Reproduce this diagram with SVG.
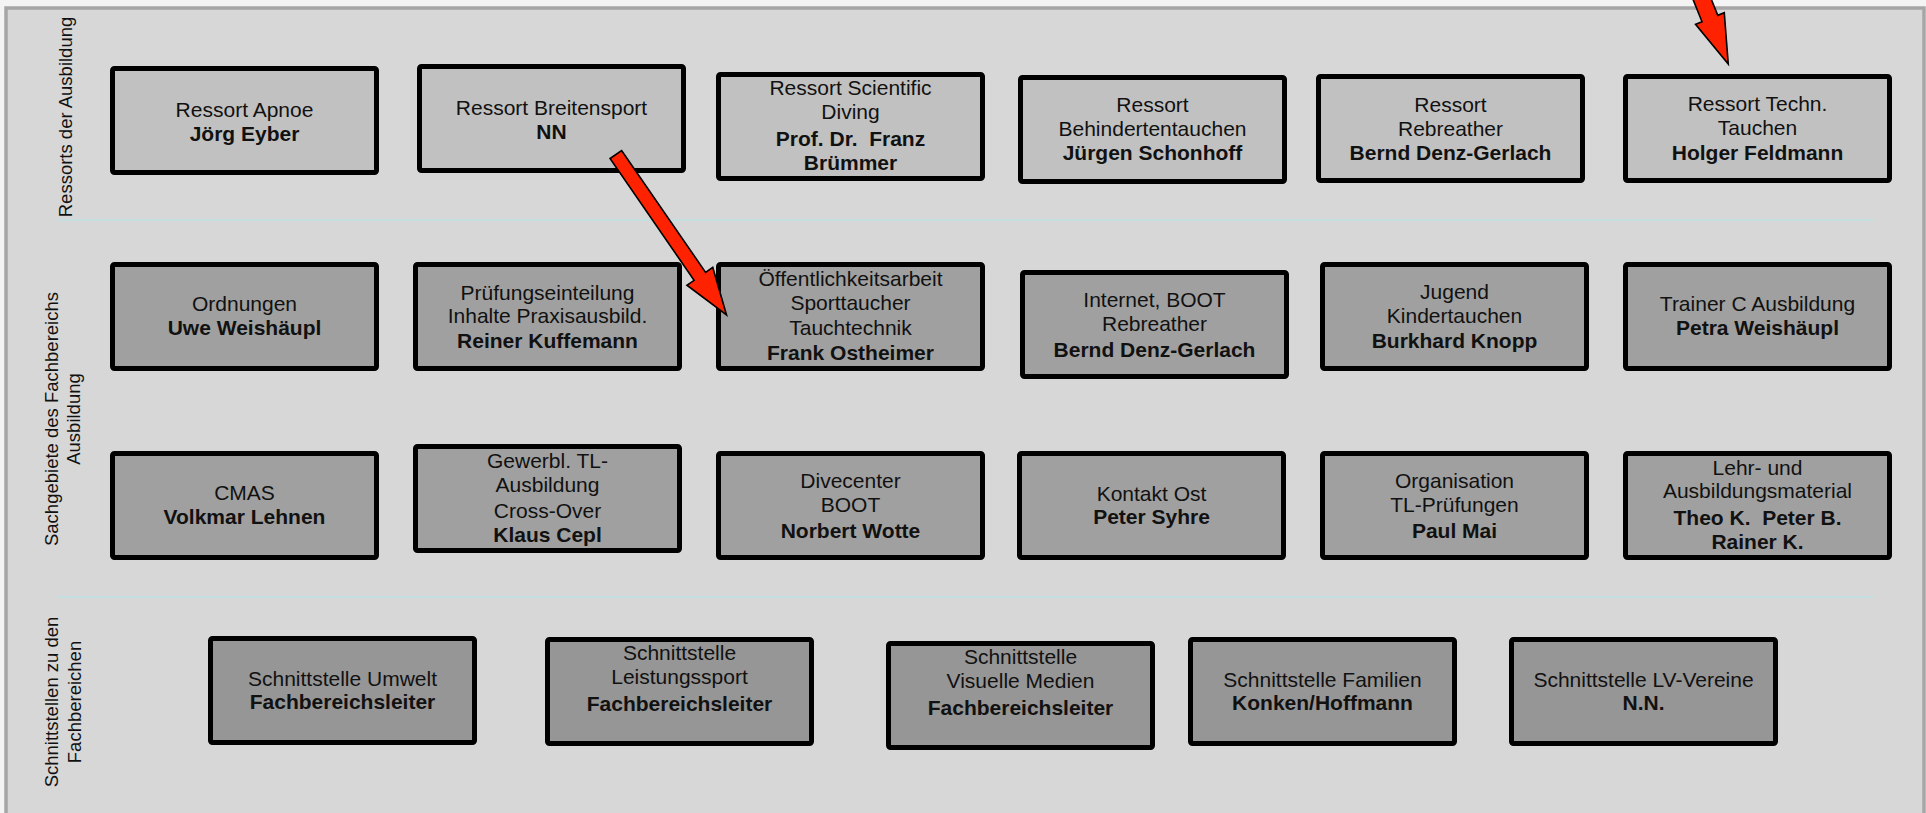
<svg xmlns="http://www.w3.org/2000/svg" width="1926" height="813" viewBox="0 0 1926 813">
<style>
.bg{fill:#d7d7d7;stroke:#a6a6a6;stroke-width:3.5}
.sep{stroke:#c4dfe0;stroke-width:2}
.b{stroke:#000;stroke-width:5}
.r1{fill:#c1c1c1}
.r2{fill:#a0a0a0}
.r4{fill:#969696}
text{font-family:"Liberation Sans",Arial,sans-serif;fill:#111}
.t{font-size:21px;text-anchor:middle}
.bd{font-weight:bold}
.lab{font-size:18.5px;text-anchor:middle}
.arr{fill:#ff2200;stroke:#000;stroke-width:1.6;stroke-linejoin:miter}
</style>
<rect width="1926" height="813" fill="#f4f4f4"/>
<rect class="bg" x="6" y="8" width="1918" height="812"/>
<line class="sep" x1="58" y1="220" x2="1874" y2="220"/>
<line class="sep" x1="58" y1="597" x2="1874" y2="597"/>

<g id="label-ressorts"><text class="lab" transform="translate(71.5,117) rotate(-90)">Ressorts der Ausbildung</text></g>
<g id="label-sachgebiete"><text class="lab" transform="translate(57.5,419) rotate(-90)">Sachgebiete des Fachbereichs</text><text class="lab" transform="translate(79.5,419) rotate(-90)">Ausbildung</text></g>
<g id="label-schnittstellen"><text class="lab" transform="translate(58,702) rotate(-90)">Schnittstellen zu den</text><text class="lab" transform="translate(80.5,702) rotate(-90)">Fachbereichen</text></g>

<g id="n-apnoe"><rect class="b r1" x="112.5" y="68.5" width="264" height="104" rx="2"/><text class="t" x="244.5" y="117">Ressort Apnoe</text><text class="t bd" x="244.5" y="141">Jörg Eyber</text></g>
<g id="n-breitensport"><rect class="b r1" x="419.5" y="66.5" width="264" height="104" rx="2"/><text class="t" x="551.5" y="115">Ressort Breitensport</text><text class="t bd" x="551.5" y="139">NN</text></g>
<g id="n-scientific"><rect class="b r1" x="718.5" y="74.5" width="264" height="104" rx="2"/><text class="t" x="850.5" y="95">Ressort Scientific</text><text class="t" x="850.5" y="119">Diving</text><text class="t bd" x="850.5" y="146" xml:space="preserve">Prof. Dr.  Franz</text><text class="t bd" x="850.5" y="170">Brümmer</text></g>
<g id="n-behinderten"><rect class="b r1" x="1020.5" y="77.5" width="264" height="104" rx="2"/><text class="t" x="1152.5" y="112">Ressort</text><text class="t" x="1152.5" y="136">Behindertentauchen</text><text class="t bd" x="1152.5" y="160">Jürgen Schonhoff</text></g>
<g id="n-rebreather"><rect class="b r1" x="1318.5" y="76.5" width="264" height="104" rx="2"/><text class="t" x="1450.5" y="112">Ressort</text><text class="t" x="1450.5" y="136">Rebreather</text><text class="t bd" x="1450.5" y="160">Bernd Denz-Gerlach</text></g>
<g id="n-techn"><rect class="b r1" x="1625.5" y="76.5" width="264" height="104" rx="2"/><text class="t" x="1757.5" y="111">Ressort Techn.</text><text class="t" x="1757.5" y="135">Tauchen</text><text class="t bd" x="1757.5" y="160">Holger Feldmann</text></g>

<g id="n-ordnungen"><rect class="b r2" x="112.5" y="264.5" width="264" height="104" rx="2"/><text class="t" x="244.5" y="311">Ordnungen</text><text class="t bd" x="244.5" y="335">Uwe Weishäupl</text></g>
<g id="n-pruefung"><rect class="b r2" x="415.5" y="264.5" width="264" height="104" rx="2"/><text class="t" x="547.5" y="300">Prüfungseinteilung</text><text class="t" x="547.5" y="323">Inhalte Praxisausbild.</text><text class="t bd" x="547.5" y="348">Reiner Kuffemann</text></g>
<g id="n-oeffentlichkeit"><rect class="b r2" x="718.5" y="264.5" width="264" height="104" rx="2"/><text class="t" x="850.5" y="286">Öffentlichkeitsarbeit</text><text class="t" x="850.5" y="310">Sporttaucher</text><text class="t" x="850.5" y="335">Tauchtechnik</text><text class="t bd" x="850.5" y="360">Frank Ostheimer</text></g>
<g id="n-internet"><rect class="b r2" x="1022.5" y="272.5" width="264" height="104" rx="2"/><text class="t" x="1154.5" y="307">Internet, BOOT</text><text class="t" x="1154.5" y="331">Rebreather</text><text class="t bd" x="1154.5" y="357">Bernd Denz-Gerlach</text></g>
<g id="n-jugend"><rect class="b r2" x="1322.5" y="264.5" width="264" height="104" rx="2"/><text class="t" x="1454.5" y="299">Jugend</text><text class="t" x="1454.5" y="323">Kindertauchen</text><text class="t bd" x="1454.5" y="348">Burkhard Knopp</text></g>
<g id="n-trainer"><rect class="b r2" x="1625.5" y="264.5" width="264" height="104" rx="2"/><text class="t" x="1757.5" y="311">Trainer C Ausbildung</text><text class="t bd" x="1757.5" y="335">Petra Weishäupl</text></g>

<g id="n-cmas"><rect class="b r2" x="112.5" y="453.5" width="264" height="104" rx="2"/><text class="t" x="244.5" y="500">CMAS</text><text class="t bd" x="244.5" y="524">Volkmar Lehnen</text></g>
<g id="n-gewerbl"><rect class="b r2" x="415.5" y="446.5" width="264" height="104" rx="2"/><text class="t" x="547.5" y="468">Gewerbl. TL-</text><text class="t" x="547.5" y="492">Ausbildung</text><text class="t" x="547.5" y="518">Cross-Over</text><text class="t bd" x="547.5" y="542">Klaus Cepl</text></g>
<g id="n-divecenter"><rect class="b r2" x="718.5" y="453.5" width="264" height="104" rx="2"/><text class="t" x="850.5" y="488">Divecenter</text><text class="t" x="850.5" y="512">BOOT</text><text class="t bd" x="850.5" y="538">Norbert Wotte</text></g>
<g id="n-kontakt"><rect class="b r2" x="1019.5" y="453.5" width="264" height="104" rx="2"/><text class="t" x="1151.5" y="501">Kontakt Ost</text><text class="t bd" x="1151.5" y="524">Peter Syhre</text></g>
<g id="n-organisation"><rect class="b r2" x="1322.5" y="453.5" width="264" height="104" rx="2"/><text class="t" x="1454.5" y="488">Organisation</text><text class="t" x="1454.5" y="512">TL-Prüfungen</text><text class="t bd" x="1454.5" y="538">Paul Mai</text></g>
<g id="n-lehr"><rect class="b r2" x="1625.5" y="453.5" width="264" height="104" rx="2"/><text class="t" x="1757.5" y="475">Lehr- und</text><text class="t" x="1757.5" y="498">Ausbildungsmaterial</text><text class="t bd" x="1757.5" y="525" xml:space="preserve">Theo K.  Peter B.</text><text class="t bd" x="1757.5" y="549">Rainer K.</text></g>

<g id="n-umwelt"><rect class="b r4" x="210.5" y="638.5" width="264" height="104" rx="2"/><text class="t" x="342.5" y="686">Schnittstelle Umwelt</text><text class="t bd" x="342.5" y="709">Fachbereichsleiter</text></g>
<g id="n-leistungssport"><rect class="b r4" x="547.5" y="639.5" width="264" height="104" rx="2"/><text class="t" x="679.5" y="660">Schnittstelle</text><text class="t" x="679.5" y="684">Leistungssport</text><text class="t bd" x="679.5" y="711">Fachbereichsleiter</text></g>
<g id="n-visuelle"><rect class="b r4" x="888.5" y="643.5" width="264" height="104" rx="2"/><text class="t" x="1020.5" y="664">Schnittstelle</text><text class="t" x="1020.5" y="688">Visuelle Medien</text><text class="t bd" x="1020.5" y="715">Fachbereichsleiter</text></g>
<g id="n-familien"><rect class="b r4" x="1190.5" y="639.5" width="264" height="104" rx="2"/><text class="t" x="1322.5" y="687">Schnittstelle Familien</text><text class="t bd" x="1322.5" y="710">Konken/Hoffmann</text></g>
<g id="n-lv"><rect class="b r4" x="1511.5" y="639.5" width="264" height="104" rx="2"/><text class="t" x="1643.5" y="687">Schnittstelle LV-Vereine</text><text class="t bd" x="1643.5" y="710">N.N.</text></g>

<g id="connectors">
<polygon class="arr" transform="translate(615.8,154.5) rotate(55.4)" points="0,-7 148,-7 148,-15.7 195,0 148,15.7 148,7 0,7"/>
<polygon class="arr" transform="translate(1683.3,-47.3) rotate(68)" points="0,-8.5 71,-8.5 71,-15.5 120,0 71,15.5 71,8.5 0,8.5"/>
</g>
</svg>
